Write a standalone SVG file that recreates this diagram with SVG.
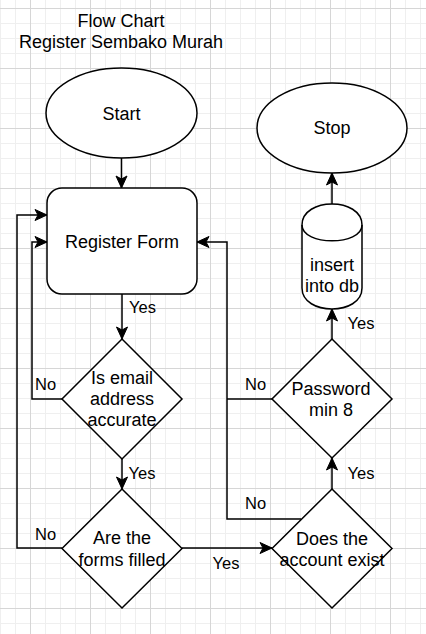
<svg xmlns="http://www.w3.org/2000/svg" width="426" height="634" viewBox="0 0 426 634">
<defs>
<pattern id="grid" patternUnits="userSpaceOnUse" x="30" y="8" width="60" height="60">
<path d="M15.5 0V60M30.5 0V60M45.5 0V60M0 15.5H60M0 30.5H60M0 45.5H60" stroke="#efefef" stroke-width="1" fill="none"/>
<path d="M0.5 0V60M0 0.5H60" stroke="#d6d6d6" stroke-width="1" fill="none"/>
</pattern>
<marker id="arr" markerUnits="userSpaceOnUse" markerWidth="14" markerHeight="14" viewBox="-13 -7 14 14" refX="0" refY="0" orient="auto">
<path d="M0,0 L-12,-5.5 L-9,0 L-12,5.5 Z" fill="#000" stroke="#000" stroke-width="1"/>
</marker>
<style>
.shape{fill:#fff;stroke:#000;stroke-width:1.5}
.edge{fill:none;stroke:#000;stroke-width:1.5}
.t{font-family:"Liberation Sans",Arial,sans-serif;font-size:18px;fill:#000;text-anchor:middle}
.l{font-family:"Liberation Sans",Arial,sans-serif;font-size:16.5px;fill:#000}
</style>
</defs>
<rect width="426" height="634" fill="#fff"/>
<rect width="426" height="634" fill="url(#grid)"/>

<g id="title">
<text class="t" x="121" y="26.7">Flow Chart</text>
<text class="t" x="121" y="48.3">Register Sembako Murah</text>
</g>

<g id="connectors">
<path class="edge" d="M121.5 158V188" marker-end="url(#arr)"/>
<path class="edge" d="M122 294V339" marker-end="url(#arr)"/>
<path class="edge" d="M62 399H32V242H47" marker-end="url(#arr)"/>
<path class="edge" d="M122 459V489" marker-end="url(#arr)"/>
<path class="edge" d="M62 548H17V215H47" marker-end="url(#arr)"/>
<path class="edge" d="M182 548H272" marker-end="url(#arr)"/>
<path class="edge" d="M332 489V458" marker-end="url(#arr)"/>
<path class="edge" d="M301 519H227V242H197" marker-end="url(#arr)"/>
<path class="edge" d="M272 399H227"/>
<path class="edge" d="M332 339V309" marker-end="url(#arr)"/>
<path class="edge" d="M332 204V173" marker-end="url(#arr)"/>
<text class="l" x="129" y="313.3">Yes</text>
<text class="l" x="35" y="390">No</text>
<text class="l" x="128.5" y="479">Yes</text>
<text class="l" x="35" y="540">No</text>
<text class="l" x="212.5" y="569">Yes</text>
<text class="l" x="347.5" y="329.3">Yes</text>
<text class="l" x="245" y="390">No</text>
<text class="l" x="347.5" y="479.3">Yes</text>
<text class="l" x="245" y="509.3">No</text>
</g>

<g id="start">
<ellipse class="shape" cx="121.5" cy="113" rx="75.5" ry="45"/>
<text class="t" x="121.5" y="120">Start</text>
</g>

<g id="register-form">
<rect class="shape" x="47" y="188" width="150" height="106" rx="15" ry="15"/>
<text class="t" x="122" y="247.7">Register Form</text>
</g>

<g id="email-check">
<path class="shape" d="M122 339L182 399L122 459L62 399Z"/>
<text class="t" x="122" y="384">Is email</text>
<text class="t" x="122" y="405">address</text>
<text class="t" x="122" y="426">accurate</text>
</g>

<g id="forms-filled">
<path class="shape" d="M122 489L182 548.5L122 608L62 548.5Z"/>
<text class="t" x="122" y="544.3">Are the</text>
<text class="t" x="122" y="565.7">forms filled</text>
</g>

<g id="account-exist">
<path class="shape" d="M332 489L392 548.5L332 608L272 548.5Z"/>
<text class="t" x="332" y="545">Does the</text>
<text class="t" x="332" y="565.7">account exist</text>
</g>

<g id="password-min">
<path class="shape" d="M332 339L392 399L332 458L272 399Z"/>
<text class="t" x="331" y="395">Password</text>
<text class="t" x="331" y="415.7">min 8</text>
</g>

<g id="insert-db">
<path class="shape" d="M302 225C302 197 362 197 362 225V288C362 316 302 316 302 288Z"/>
<path class="edge" d="M302 225C302 246 362 246 362 225"/>
<text class="t" x="332" y="271">insert</text>
<text class="t" x="332" y="292.3">into db</text>
</g>

<g id="stop">
<ellipse class="shape" cx="332" cy="128" rx="75" ry="45"/>
<text class="t" x="332" y="134.3">Stop</text>
</g>
</svg>
